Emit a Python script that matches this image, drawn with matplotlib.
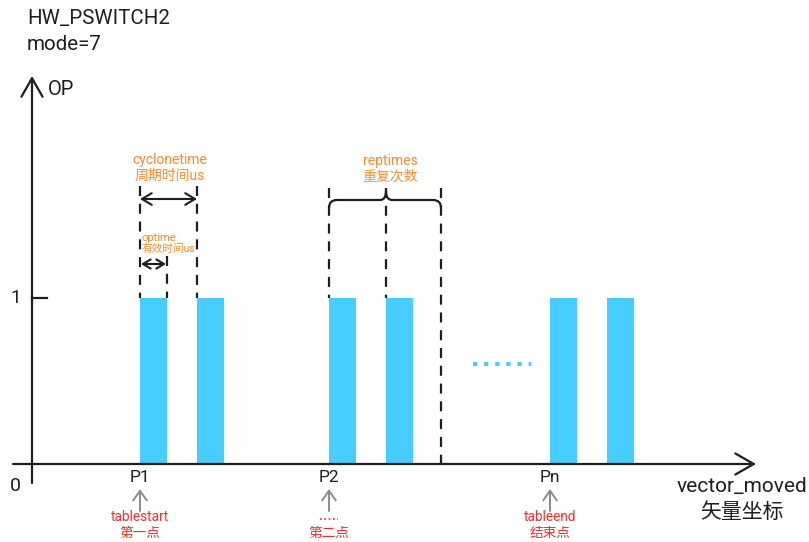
"""Schematic of the HW_PSWITCH2 mode=7 output sequence."""

import matplotlib

matplotlib.use("Agg")
import matplotlib.pyplot as plt
from matplotlib.patches import PathPatch
from matplotlib.path import Path

plt.rcParams["font.family"] = ["Roboto", "Noto Sans CJK SC", "DejaVu Sans"]

# pulse data: left edge of each pulse on the vector axis, common width and level
pulse_starts = [140, 197, 329, 386, 550, 607]
pulse_width = 27
op_level = 1

# table points marked under the axis
point_names = ["P1", "P2", "Pn"]
point_x = [140, 329, 550]
point_notes = ["tablestart\n第一点", "……\n第二点", "tableend\n结束点"]

title_lines = ["HW_PSWITCH2", "mode=7"]

BAR = "#45CEFF"
ORANGE = "#FF8A2A"
RED = "#FF2A2A"
GRAY = "#8C8C8C"
INK = "#1E1E1E"

# y = 0 sits 464 px from the top, y = 1 sits 298 px from the top
PX = 166.0


def yr(row):
    """Convert a pixel row (from the top) to OP units."""
    return (464 - row) / PX


fig = plt.figure(figsize=(8.09, 5.42), dpi=100)
ax = fig.add_axes([0, 0, 1, 1])
ax.set_xlim(0, 809)
ax.set_ylim(yr(542), yr(0))
ax.axis("off")

ax.bar(pulse_starts, op_level, width=pulse_width, align="edge", color=BAR, zorder=2)

# axes with open arrow heads
ax.annotate("", xy=(756, 0), xytext=(13, 0),
            arrowprops=dict(arrowstyle="->,head_length=0.7,head_width=0.4",
                            mutation_scale=19, lw=1.6, color=INK, shrinkA=0, shrinkB=0))
ax.annotate("", xy=(32, yr(76)), xytext=(32, yr(483)),
            arrowprops=dict(arrowstyle="->,head_length=0.7,head_width=0.4",
                            mutation_scale=19, lw=1.6, color=INK, shrinkA=0, shrinkB=0))
ax.plot([32, 47], [op_level, op_level], color=INK, lw=1.6)
ax.text(16, op_level, "1", fontsize=13.5, ha="center", va="center", color=INK)
ax.text(15, yr(486), "0", fontsize=14, ha="center", va="center", color=INK)
ax.text(48, yr(89), "OP", fontsize=14.5, ha="left", va="center", color=INK)

ax.text(27, yr(19), title_lines[0], fontsize=14.8, ha="left", va="center", color=INK)
ax.text(27, yr(44), title_lines[1], fontsize=14.8, ha="left", va="center", color=INK)

# dashed guides
dash = dict(color=INK, lw=1.6, dashes=(4.5, 3.5))
p1, p2 = pulse_starts[0], pulse_starts[2]
ax.plot([p1, p1], [yr(186), op_level], **dash)
ax.plot([pulse_starts[1], pulse_starts[1]], [yr(186), op_level], **dash)
ax.plot([p1 + pulse_width, p1 + pulse_width], [yr(256), op_level], **dash)
ax.plot([p2, p2], [yr(188), op_level], **dash)
ax.plot([pulse_starts[3], pulse_starts[3]], [yr(188), op_level], **dash)
ax.plot([441, 441], [yr(188), 0], **dash)

# cyclonetime / optime arrows
small = dict(arrowstyle="<->,head_length=0.5,head_width=0.3", mutation_scale=14,
             lw=1.5, color=INK, shrinkA=0, shrinkB=0)
ax.annotate("", xy=(pulse_starts[1], yr(199)), xytext=(p1, yr(199)), arrowprops=small)
ax.annotate("", xy=(p1 + pulse_width - 1, yr(264)), xytext=(p1 + 1, yr(264)),
            arrowprops=dict(small, mutation_scale=11))
ax.text(170, yr(160), "cyclonetime", fontsize=10, ha="center", va="center", color=ORANGE)
ax.text(170, yr(176), "周期时间us", fontsize=10, ha="center", va="center", color=ORANGE)
ax.text(142, yr(238), "optime", fontsize=8, ha="left", va="center", color=ORANGE)
ax.text(142, yr(249), "有效时间us", fontsize=7.7, ha="left", va="center", color=ORANGE)

# reptimes brace
xl, xm, xr = p2, pulse_starts[3], 441
yb, ym, yt = yr(208), yr(200), yr(191)
verts = [(xl, yb), (xl, ym), (xl + 8, ym), (xm - 6, ym), (xm, ym), (xm, yt),
         (xm, ym), (xm + 6, ym), (xr - 8, ym), (xr, ym), (xr, yb)]
codes = [Path.MOVETO, Path.CURVE3, Path.CURVE3, Path.LINETO, Path.CURVE3, Path.CURVE3,
         Path.CURVE3, Path.CURVE3, Path.LINETO, Path.CURVE3, Path.CURVE3]
ax.add_patch(PathPatch(Path(verts, codes), fill=False, lw=1.6, edgecolor=INK))
ax.text(390, yr(161), "reptimes", fontsize=10, ha="center", va="center", color=ORANGE)
ax.text(390, yr(177), "重复次数", fontsize=10, ha="center", va="center", color=ORANGE)

# continuation dots
ax.plot([473, 531], [yr(364), yr(364)], color=BAR, lw=3, dashes=(1.0, 1.67))

# table points under the axis
for name, x, note in zip(point_names, point_x, point_notes):
    ax.text(x, yr(478), name, fontsize=12.5, ha="center", va="center", color=INK)
    ax.annotate("", xy=(x, yr(489)), xytext=(x, yr(511)),
                arrowprops=dict(arrowstyle="->,head_length=0.5,head_width=0.35",
                                mutation_scale=14, lw=1.4, color=GRAY,
                                shrinkA=0, shrinkB=0))
    top, bottom = note.split("\n")
    if top == "……":
        ax.plot([x - 9, x + 9], [yr(519), yr(519)], color=RED, lw=1.2, dashes=(1, 1.6))
    else:
        ax.text(x, yr(517), top, fontsize=9.8, ha="center", va="center", color=RED)
    ax.text(x, yr(533), bottom, fontsize=9.8, ha="center", va="center", color=RED)

ax.text(742, yr(487), "vector_moved", fontsize=15, ha="center", va="center", color=INK)
ax.text(742, yr(512), "矢量坐标", fontsize=15, ha="center", va="center", color=INK)

fig.savefig("out.png", dpi=100)
